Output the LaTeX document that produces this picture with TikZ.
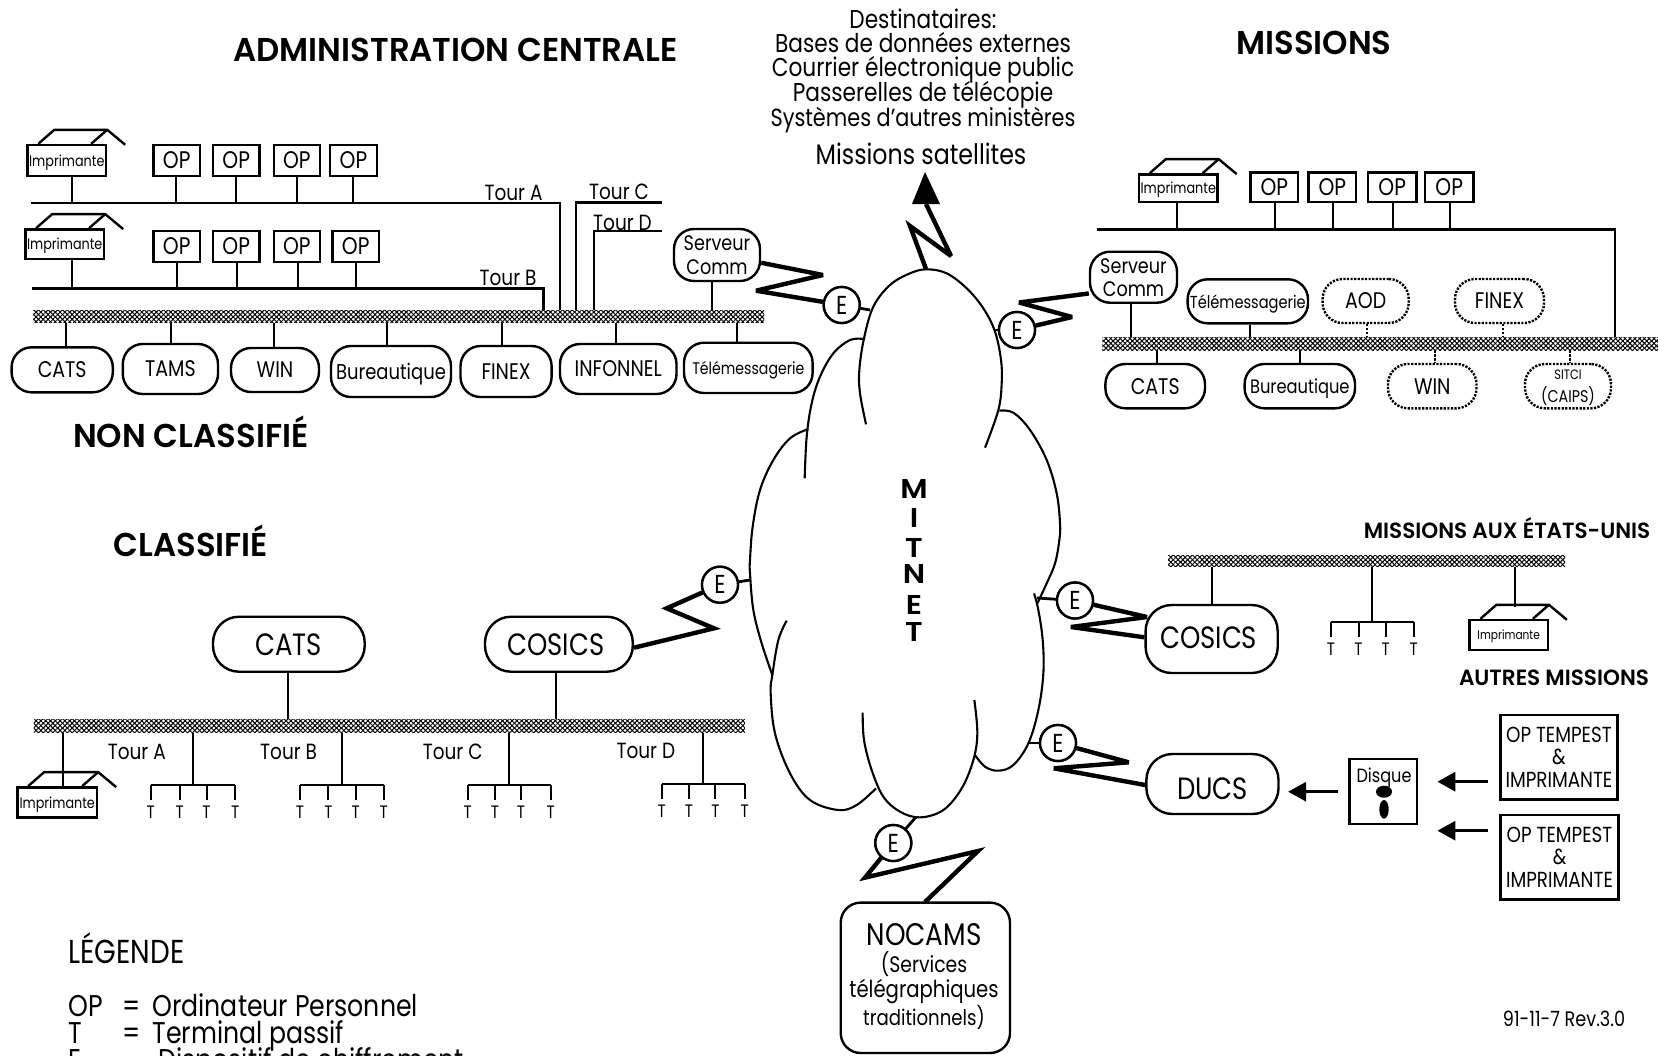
\documentclass[tikz,border=0pt]{standalone}
\usepackage{fontspec}
\setmainfont[FakeStretch=0.84]{Poppins}
\newfontfamily\headfont[FakeStretch=0.98]{Poppins SemiBold}
\newfontfamily\mitfont[FakeStretch=1.12]{Poppins SemiBold}
\usetikzlibrary{arrows.meta,patterns.meta}
\tikzset{
  rbox/.style={draw,line width=1.2pt,rounded corners=10pt,inner sep=0pt,align=center,text depth=0pt,font=\fontsize{11.3}{12}\selectfont},
  dbox/.style={rbox,dash pattern=on 1.1pt off 0.7pt},
  sqbox/.style={draw,line width=1.2pt,inner sep=0pt,align=center,text depth=0pt,font=\fontsize{12}{12}\selectfont},
  prn/.style={sqbox,font=\fontsize{7.6}{8}\selectfont},
  hatchbus/.style={inner sep=0pt,preaction={pattern={Lines[angle=45,distance=1.7pt,line width=.5pt]}},pattern={Lines[angle=-45,distance=1.7pt,line width=.5pt]}},
  stem/.style={line width=1pt},
  dstem/.style={line width=1pt,dash pattern=on 1.1pt off 0.9pt},
  lan/.style={line width=1.3pt,line join=miter},
  zig/.style={line width=2.2pt,line join=miter,miter limit=4},
  elink/.style={line width=1.4pt},
  cloudline/.style={line width=1.05pt},
  enode/.style={circle,draw,line width=1.2pt,fill=white,minimum size=18pt,inner sep=0pt,font=\fontsize{13}{13}\selectfont},
  lbl/.style={inner sep=0pt,font=\fontsize{11}{12}\selectfont},
  title/.style={inner sep=0pt,font=\fontsize{16.5}{18}\headfont},
  subt/.style={inner sep=0pt,font=\fontsize{11}{12}\headfont},
  txt/.style={inner sep=0pt,text height=9.5pt,text depth=2.5pt,font=\fontsize{12.9}{13}\selectfont},
  leg/.style={inner sep=0pt,anchor=west,text height=11pt,text depth=3pt,font=\fontsize{15}{15}\selectfont},
  tlet/.style={inner sep=0pt,font=\fontsize{9}{9}\selectfont},
  mit/.style={inner sep=0pt,text height=7pt,text depth=0pt,font=\fontsize{13.6}{14}\mitfont},
  bigarrow/.style={line width=1.5pt,-{Triangle[length=9pt,width=9.5pt]}},
}
% style, name, x1, y1, x2, y2, text
\newcommand\bx[7]{\node[#1,minimum width={(#5-(#3))*.5pt},minimum height={(#6-(#4))*.5pt}] (#2) at ({(#3+#5)/2},{(#4+#6)/2}) {#7};}
\newcommand\vlink[4][stem]{\draw[#1] (#2,0 |- #3) -- (#2,0 |- #4);}
\newcommand\roof[1]{\draw[line width=1.2pt,line join=miter]
  ([shift={(12,0)}]#1.north west) -- ([shift={(28,-14)}]#1.north west) -- ([shift={(0,-14)}]#1.north east) -- ([shift={(18,1)}]#1.north east);
  \draw[line width=1.2pt] ([shift={(-16,0)}]#1.north east) -- ([shift={(0,-14)}]#1.north east);}
\newcommand\rack[8]{
  \coordinate (#1h) at (#3,#4);
  \vlink{#3}{#2}{#1h}
  \draw[lan] (#5,#4) -- (#8,#4);
  \foreach \tx/\tn in {#5/a,#6/b,#7/c,#8/d}{
    \node[tlet] (#1\tn) at (\tx,#4+27) {T};
    \draw[stem] (\tx,#4) -- (\tx,#4+15);
  }
}
\begin{document}
\begin{tikzpicture}[x=0.5pt,y=-0.5pt]
\useasboundingbox (0,0) rectangle (1658,1055);
\clip (0,0) rectangle (1658,1055);
\fill[white] (0,0) rectangle (1658,1055);

%% titles
\node[title] (tadm) at (455.7,49.7) {ADMINISTRATION CENTRALE};
\node[title] (tmis) at (1314,43) {MISSIONS};
\node[title] (tnon) at (190.8,431.6) {NON CLASSIFIÉ};
\node[title] (tcla) at (190.8,540.5) {CLASSIFIÉ};
\node[subt] (tusa) at (1507,528) {MISSIONS AUX ÉTATS-UNIS};
\node[subt] (taut) at (1554,678) {AUTRES MISSIONS};

\node[txt] (d1) at (923,21) {Destinataires:};
\node[txt] (d2) at (923,45.4) {Bases de données externes};
\node[txt] (d3) at (923,69.7) {Courrier électronique public};
\node[txt] (d4) at (923,94) {Passerelles de télécopie};
\node[txt,font=\fontsize{12.4}{13}\selectfont] (d5) at (923,119) {Systèmes d'autres ministères};
\node[txt,font=\fontsize{14.1}{14}\selectfont] (msat) at (921,157.4) {Missions satellites};

%% cloud (coordinates follow a 3x crop whose corner is at 740,260)
\begin{scope}[shift={(740,260)},x=0.16667pt,y=-0.16667pt]
\draw[cloudline] plot[smooth,tension=.6] coordinates {(378,493)(360,400)(358,330)(372,235)(400,140)(450,75)(510,40)(560,28)(620,40)(680,85)(730,145)(765,215)(783,300)(785,370)(775,450)(735,563)};
\draw[cloudline] plot[smooth,tension=.6] coordinates {(370,237)(330,240)(280,280)(240,350)(215,430)(200,530)(194,655)};
\draw[cloudline] plot[smooth,tension=.6] coordinates {(205,507)(150,535)(100,600)(60,690)(38,800)(30,900)(30,940)(40,1050)(65,1150)(97,1245)};
\draw[cloudline] plot[smooth,tension=.6] coordinates {(140,1082)(115,1140)(97,1245)(92,1300)(105,1420)(150,1540)(210,1620)(295,1650)(350,1635)(408,1585)};
\draw[cloudline] plot[smooth,tension=.6] coordinates {(368,1358)(372,1440)(395,1530)(430,1610)(480,1655)(540,1672)(610,1650)(665,1585)(700,1500)(712,1420)(703,1320)};
\draw[cloudline] plot[smooth,tension=.6] coordinates {(705,1485)(735,1520)(775,1532)(820,1515)(865,1450)(895,1350)(910,1240)(908,1140)(895,1050)(882,1000)};
\draw[cloudline] plot[smooth,tension=.6] coordinates {(778,452)(820,458)(870,510)(920,600)(950,700)(960,790)(958,840)(945,910)(920,970)(892,1030)};
\end{scope}
\foreach \ch/\yy/\nn in {M/491.6/ma,I/520.8/mb,T/550/mc,N/576.7/md,E/607.6/me,T/634/mf}{\node[mit] (\nn) at (914,\yy) {\ch};}
\coordinate (c1) at (870,310);
\coordinate (c2) at (995,330);
\coordinate (c3) at (750,580);
\coordinate (c4) at (1037,598);
\coordinate (c5) at (1029,743);
\coordinate (c6) at (916,817);

%% ===== Administration centrale
\bx{hatchbus}{ha}{33.4}{310.7}{764}{322.7}{}
\coordinate (aL) at (30.7,203); \coordinate (aR) at (560,203);
\coordinate (bL) at (31.8,288.7); \coordinate (bR) at (543.7,288.7);
\coordinate (cL) at (576,202.7); \coordinate (cR) at (662,202.7);
\coordinate (dL) at (594,231); \coordinate (dR) at (662,231);
\draw[lan] (aL) -- (aR) -- (aR |- ha.north);
\draw[lan] (bL) -- (bR) -- (bR |- ha.north);
\draw[lan] (cR) -- (cL) -- (cL |- ha.north);
\draw[lan] (dR) -- (dL) -- (dL |- ha.north);
\node[lbl] (ltA) at (513.5,192.7) {Tour A};
\node[lbl] (ltB) at (508,278) {Tour B};
\node[lbl] (ltC) at (619,192) {Tour C};
\node[lbl] (ltD) at (622.5,222.7) {Tour D};

\bx{prn}{pa}{27.5}{145}{106}{176}{Imprimante}\roof{pa}
\bx{sqbox}{o1}{153.5}{145}{200}{176}{OP}
\bx{sqbox}{o2}{213}{145}{259.4}{176}{OP}
\bx{sqbox}{o3}{273.7}{145}{320}{176}{OP}
\bx{sqbox}{o4}{330}{145}{377}{176}{OP}
\vlink{71.5}{pa.south}{aL}\vlink{176}{o1.south}{aL}\vlink{236}{o2.south}{aL}\vlink{296.5}{o3.south}{aL}\vlink{353}{o4.south}{aL}

\bx{prn}{pb}{25.4}{229.3}{104}{258.7}{Imprimante}\roof{pb}
\bx{sqbox}{o5}{153.5}{231}{200}{261.7}{OP}
\bx{sqbox}{o6}{213}{231}{259.4}{261.7}{OP}
\bx{sqbox}{o7}{273.7}{231}{320}{261.7}{OP}
\bx{sqbox}{o8}{332.5}{231}{379}{261.7}{OP}
\vlink{72}{pb.south}{bL}\vlink{177}{o5.south}{bL}\vlink{236.6}{o6.south}{bL}\vlink{297.5}{o7.south}{bL}\vlink{356}{o8.south}{bL}

\bx{rbox,font=\fontsize{10.5}{11.6}\selectfont}{sa}{674}{229}{760}{281}{Serveur\\Comm}
\vlink{712}{sa.south}{ha.north}
\bx{rbox}{n1}{11.6}{347.3}{112.8}{392.3}{CATS}
\bx{rbox}{n2}{122.8}{344}{218}{394}{TAMS}
\bx{rbox}{n3}{231}{348}{319}{392}{WIN}
\bx{rbox,font=\fontsize{10.7}{12}\selectfont}{n4}{331}{346}{451}{397}{Bureautique}
\bx{rbox}{n5}{460.5}{346}{551.6}{397}{FINEX}
\bx{rbox}{n6}{560}{344}{676.5}{394}{INFONNEL}
\bx{rbox,font=\fontsize{8.4}{9}\selectfont}{n7}{684}{342.7}{812.6}{393}{Télémessagerie}
\vlink{66}{ha.south}{n1.north}\vlink{171}{ha.south}{n2.north}\vlink{274}{ha.south}{n3.north}\vlink{386.5}{ha.south}{n4.north}\vlink{502}{ha.south}{n5.north}\vlink{615.7}{ha.south}{n6.north}\vlink{737}{ha.south}{n7.north}

%% ===== Missions
\bx{hatchbus}{hm}{1102.3}{337.3}{1658}{350}{}
\coordinate (mL) at (1096.5,229.3); \coordinate (mR) at (1615,229.3);
\draw[lan] (mL) -- (mR) -- (mR |- hm.north);
\bx{prn}{pm}{1139}{174.3}{1217.5}{201.7}{Imprimante}\roof{pm}
\bx{sqbox}{o9}{1250.5}{172.3}{1298}{201.7}{OP}
\bx{sqbox}{o10}{1308.6}{172.3}{1356}{201.7}{OP}
\bx{sqbox}{o11}{1368}{172.3}{1416.4}{201.7}{OP}
\bx{sqbox}{o12}{1425}{172.3}{1473.4}{201.7}{OP}
\vlink{1177}{pm.south}{mL}\vlink{1274.5}{o9.south}{mL}\vlink{1333}{o10.south}{mL}\vlink{1393}{o11.south}{mL}\vlink{1450}{o12.south}{mL}
\bx{rbox,font=\fontsize{10.5}{11.6}\selectfont}{sm}{1090}{251.7}{1177}{302.7}{Serveur\\Comm}
\bx{rbox,font=\fontsize{8.7}{9}\selectfont}{m1}{1187.6}{279.3}{1308}{323.3}{Télémessagerie}
\bx{dbox}{m2}{1322.6}{279}{1408.7}{323}{AOD}
\bx{dbox}{m3}{1455}{279}{1544}{323}{FINEX}
\bx{rbox}{m4}{1105.4}{364}{1205}{408.3}{CATS}
\bx{rbox,font=\fontsize{9.7}{12}\selectfont}{m5}{1244.6}{364}{1355}{408.3}{Bureautique}
\bx{dbox}{m6}{1388}{364}{1476.5}{408.3}{WIN}
\bx{dbox,font=\fontsize{6.8}{11.5}\selectfont}{m7}{1525}{364}{1611}{408.3}{SITCI\\{\fontsize{8.5}{11.5}\selectfont(CAIPS)}}
\vlink{1131.4}{sm.south}{hm.north}\vlink{1249.7}{m1.south}{hm.north}
\vlink[dstem]{1367}{m2.south}{hm.north}\vlink[dstem]{1502.5}{m3.south}{hm.north}
\vlink{1157.4}{hm.south}{m4.north}\vlink{1300}{hm.south}{m5.north}
\vlink[dstem]{1434.6}{hm.south}{m6.north}\vlink[dstem]{1570.4}{hm.south}{m7.north}

%% ===== Classifié
\bx{hatchbus}{hc}{33.8}{719.3}{744.8}{732.7}{}
\bx{rbox,rounded corners=13pt,font=\fontsize{15.4}{16}\selectfont}{c7}{213}{616.7}{364.7}{671.7}{CATS}
\bx{rbox,rounded corners=13pt,font=\fontsize{15.4}{16}\selectfont}{c8}{485}{616.7}{632.8}{671.7}{\hspace{-3pt}COSICS}
\vlink{287.6}{c7.south}{hc.north}\vlink{556}{c8.south}{hc.north}
\bx{prn}{pc}{17.4}{787.3}{97}{817.3}{Imprimante}\roof{pc}
\vlink{63}{hc.south}{pc.north}
\rack{ra}{hc.south}{193}{785}{150.7}{179.6}{206.5}{235.3}
\rack{rb}{hc.south}{341.8}{785}{300}{328.4}{355.7}{383.6}
\rack{rc}{hc.south}{508.5}{785}{467.7}{495}{521}{550.7}
\rack{rd}{hc.south}{702.5}{784}{661.7}{689}{715.4}{744.8}
\node[lbl] (cA) at (136.8,751.7) {Tour A};
\node[lbl] (cB) at (288.6,751.7) {Tour B};
\node[lbl] (cC) at (452.7,752) {Tour C};
\node[lbl] (cD) at (645.8,750.7) {Tour D};

%% ===== Missions aux Etats-Unis / autres
\bx{hatchbus}{hu}{1168}{555}{1565}{566.7}{}
\bx{rbox,rounded corners=13pt,font=\fontsize{15.4}{16}\selectfont}{u1}{1145.6}{605}{1277.7}{673}{\hspace{-3pt}\raisebox{1pt}{COSICS}}
\vlink{1212}{hu.south}{u1.north}
\rack{ru}{hu.south}{1372}{622}{1331}{1358.5}{1385.7}{1413.7}
\bx{prn,font=\fontsize{6.3}{7}\selectfont}{pu}{1469.6}{620}{1547.7}{650}{Imprimante}\roof{pu}
\coordinate (puTop) at (1515,606.7);
\vlink{1515}{hu.south}{puTop}
\bx{rbox,rounded corners=13pt,font=\fontsize{15.4}{16}\selectfont}{ducs}{1146.4}{754}{1278.5}{814}{\raisebox{-4.5pt}{DUCS}}
\bx{sqbox,line width=1.4pt}{disk}{1349.5}{759}{1417}{824}{}
\node[inner sep=0pt,font=\fontsize{9.6}{10}\selectfont] (dlab) at (1384,777.5) {Disque};
\fill (1384,791.7) ellipse [x radius=8,y radius=6];
\fill (1384,809.3) ellipse [x radius=4.7,y radius=9.3];
\bx{sqbox,font=\fontsize{10.9}{11.4}\selectfont}{t1}{1500.4}{715}{1617.5}{799.3}{OP TEMPEST\\\&\\IMPRIMANTE}
\bx{sqbox,font=\fontsize{10.9}{11.4}\selectfont}{t2}{1500.4}{815}{1618.6}{899.3}{OP TEMPEST\\\&\\IMPRIMANTE}
\draw[bigarrow,shorten <=5pt,shorten >=4.2pt] (disk.west |- 0,791.7) -- (ducs.east |- 0,791.7);
\draw[bigarrow,shorten <=5.7pt,shorten >=9.5pt] (t1.west |- 0,781.7) -- (disk.east |- 0,781.7);
\draw[bigarrow,shorten <=5.7pt,shorten >=9.5pt] (t2.west |- 0,830.7) -- (disk.east |- 0,830.7);

%% ===== NOCAMS
\bx{rbox}{nc}{840.7}{902.6}{1010}{1053}{}
\node[inner sep=0pt,font=\fontsize{15.6}{16}\selectfont] (nc1) at (924,935) {NOCAMS};
\node[inner sep=0pt,font=\fontsize{11.2}{12}\selectfont] (nc2) at (924,964) {(Services};
\node[inner sep=0pt,font=\fontsize{11.7}{12}\selectfont] (nc3) at (924,991) {télégraphiques};
\node[inner sep=0pt,font=\fontsize{10.8}{12}\selectfont] (nc4) at (924,1017.7) {traditionnels)};

%% ===== E devices and links
\node[enode] (e1) at (841.7,305) {E};
\node[enode] (e2) at (1017,330) {E};
\node[enode] (e3) at (720,584.7) {E};
\node[enode] (e4) at (1075,600.5) {E};
\node[enode] (e5) at (1058,743) {E};
\node[enode] (e6) at (893.3,843) {E};
\draw[elink] (e1) -- (c1);
\draw[elink] (e2) -- (c2);
\draw[elink] (e3) -- (c3);
\draw[elink] (e4) -- (c4);
\draw[elink] (e5) -- (c5);
\draw[elink] (e6) -- (c6);
\draw[zig] (sa.-10) -- (823,275) -- (756,290.7) -- (e1);
\draw[zig] (sm.200) -- (1019,302.5) -- (1072,317) -- (e2);
\draw[zig] (c8.east |- 0,647.7) -- (714,628.3) -- (666.7,608.3) -- (e3);
\draw[zig] (e4) -- (1147,617) -- (1071,627) -- (u1.west |- 0,637.3);
\draw[zig] (e5) -- (1128.7,762.3) -- (1053.8,768.3) -- (ducs.west |- 0,785);
\draw[zig] (e6) -- (865,877.6) -- (978,851) -- (925,902);
\node[enode] at (e1) {E};
\node[enode] at (e2) {E};
\node[enode] at (e3) {E};
\node[enode] at (e4) {E};
\node[enode] at (e5) {E};
\node[enode] at (e6) {E};

%% north lightning
\coordinate (nb) at (926,204);
\fill (925,172) -- (940,204) -- (912,204) -- cycle;
\draw[zig] (nb) -- (951,256) -- (910,226) -- (926,269);

%% legend
\node[leg,font=\fontsize{16.6}{17}\selectfont] (lg) at (68,955.7) {LÉGENDE};
\node[leg] (l1) at (68,1008.6) {OP};
\node[leg] (l2) at (122,1008.6) {=};
\node[leg] (l3) at (152,1008.6) {Ordinateur Personnel};
\node[leg] (l4) at (68,1035) {T};
\node[leg] (l5) at (122,1035) {=};
\node[leg] (l6) at (152,1035) {Terminal passif};
\node[leg] (l7) at (68,1062) {E};
\node[leg] (l8) at (158,1062) {Dispositif de chiffrement};
\node[inner sep=0pt,font=\fontsize{10.5}{11}\selectfont] (rev) at (1564,1019) {91-11-7 Rev.3.0};
\end{tikzpicture}
\end{document}
